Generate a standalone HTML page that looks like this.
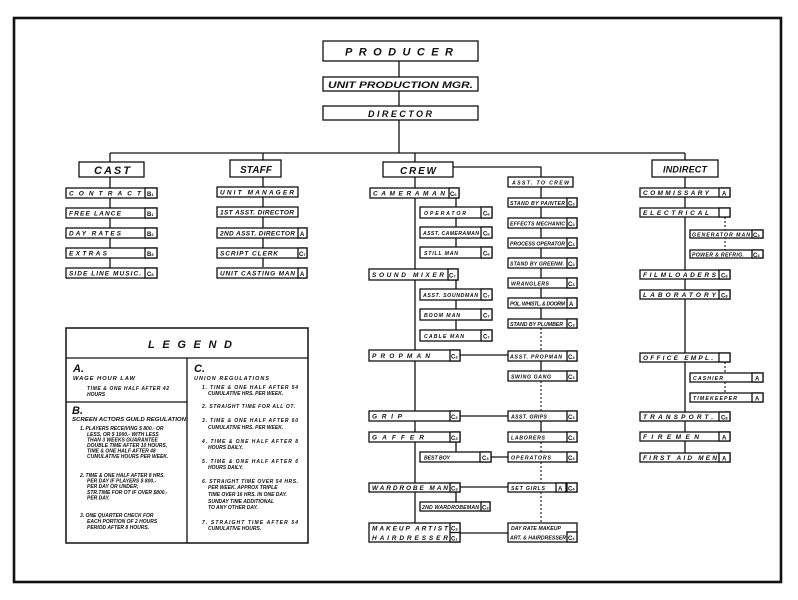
<!DOCTYPE html>
<html><head><meta charset="utf-8"><style>
html,body{margin:0;padding:0;background:#fff}
svg{display:block}
text{font-family:"Liberation Sans",sans-serif;font-weight:bold;font-style:italic;fill:#111}
.b{fill:#fff;stroke:#111;stroke-width:1.3}
.l{stroke:#111;stroke-width:1.3;fill:none}
.d{stroke:#111;stroke-width:1.1;stroke-dasharray:2 2;fill:none}
.t{font-size:6.5px}
.s{font-size:5.2px}
.g{font-size:6px;font-style:normal}
</style></head><body>
<svg width="798" height="600" viewBox="0 0 798 600" xmlns="http://www.w3.org/2000/svg">
<rect x="14" y="18" width="767" height="564" fill="none" stroke="#111" stroke-width="2.6"/>

<!-- top -->
<rect class="b" x="323" y="41" width="155" height="20"/>
<text x="345" y="55.5" font-size="11" textLength="108" lengthAdjust="spacing">PRODUCER</text>
<rect class="b" x="323" y="77" width="155" height="14"/>
<text x="328" y="88" font-size="9" textLength="145" lengthAdjust="spacingAndGlyphs">UNIT PRODUCTION MGR.</text>
<rect class="b" x="323" y="106" width="155" height="14"/>
<text x="368" y="117" font-size="9" textLength="64" lengthAdjust="spacing">DIRECTOR</text>
<path class="l" d="M399 61V77M399 91V106M399 120V153M110 153H685M110 153V162M263 153V160M415 153V162M685 153V160"/>

<rect class="b" x="79" y="162" width="65" height="15"/>
<text x="94" y="174" font-size="11" textLength="36">CAST</text>
<rect class="b" x="230" y="160" width="51" height="17"/>
<text x="240" y="173" font-size="10" textLength="32">STAFF</text>
<rect class="b" x="383" y="162" width="70" height="15"/>
<text x="400" y="174" font-size="10" textLength="36">CREW</text>
<rect class="b" x="652" y="160" width="66" height="17"/>
<text x="663" y="172.5" font-size="9" textLength="44">INDIRECT</text>
<path class="l" d="M453 167H541V177"/>
<rect class="b" x="508" y="177" width="65" height="10"/>
<text x="512" y="184.5" class="s" textLength="57">ASST. TO CREW</text>

<!-- CAST -->
<path class="l" d="M110 177V268"/>
<g>
<rect class="b" x="66" y="188" width="91" height="10"/><rect class="b" x="145" y="188" width="12" height="10"/>
<text x="69" y="195.5" class="t" textLength="72">CONTRACT</text><text x="147" y="196" class="g">B<tspan font-size="4">1</tspan></text>
<rect class="b" x="66" y="208" width="91" height="10"/><rect class="b" x="145" y="208" width="12" height="10"/>
<text x="69" y="215.5" class="t" textLength="52">FREE LANCE</text><text x="147" y="216" class="g">B<tspan font-size="4">1</tspan></text>
<rect class="b" x="66" y="228" width="91" height="10"/><rect class="b" x="145" y="228" width="12" height="10"/>
<text x="69" y="235.5" class="t" textLength="52">DAY RATES</text><text x="147" y="236" class="g">B<tspan font-size="4">2</tspan></text>
<rect class="b" x="66" y="248" width="91" height="10"/><rect class="b" x="145" y="248" width="12" height="10"/>
<text x="69" y="255.5" class="t" textLength="38">EXTRAS</text><text x="147" y="256" class="g">B<tspan font-size="4">3</tspan></text>
<rect class="b" x="66" y="268" width="91" height="10"/><rect class="b" x="145" y="268" width="12" height="10"/>
<text x="69" y="275.5" class="t" textLength="72">SIDE LINE MUSIC.</text><text x="147" y="276" class="g">C<tspan font-size="4">8</tspan></text>
</g>

<!-- STAFF -->
<path class="l" d="M263 177V267"/>
<rect class="b" x="217" y="187" width="81" height="10"/>
<text x="220" y="194.5" class="t" textLength="74">UNIT MANAGER</text>
<rect class="b" x="217" y="207" width="81" height="10"/>
<text x="220" y="214.5" class="t" textLength="74">1ST ASST. DIRECTOR</text>
<rect class="b" x="217" y="228" width="90" height="10"/><rect class="b" x="298" y="228" width="9" height="10"/>
<text x="220" y="235.5" class="t" textLength="75">2ND ASST. DIRECTOR</text><text x="300" y="236" class="g">A</text>
<rect class="b" x="217" y="248" width="90" height="10"/><rect class="b" x="298" y="248" width="9" height="10"/>
<text x="220" y="255.5" class="t" textLength="58">SCRIPT CLERK</text><text x="299" y="256" class="g">C<tspan font-size="4">7</tspan></text>
<rect class="b" x="217" y="268" width="90" height="10"/><rect class="b" x="298" y="268" width="9" height="10"/>
<text x="220" y="275.5" class="t" textLength="75">UNIT CASTING MAN</text><text x="300" y="276" class="g">A</text>

<!-- CREW main -->
<path class="l" d="M415 177V523M456 198V247M456 280V330M460 355H508M460 416H508M456 442V452M491 457H508M460 487H508M456 492V502M460 533H508"/>
<rect class="b" x="370" y="188" width="89" height="10"/><rect class="b" x="449" y="188" width="10" height="10"/>
<text x="373" y="195.5" class="t" textLength="72">CAMERAMAN</text><text x="450" y="196" class="g">C<tspan font-size="4">6</tspan></text>
<rect class="b" x="420" y="207" width="72" height="11"/><rect class="b" x="481" y="207" width="11" height="11"/>
<text x="424" y="215" class="s" textLength="42">OPERATOR</text><text x="483" y="215.5" class="g">C<tspan font-size="4">6</tspan></text>
<rect class="b" x="420" y="227" width="72" height="11"/><rect class="b" x="481" y="227" width="11" height="11"/>
<text x="423" y="235" class="s" textLength="56">ASST. CAMERAMAN</text><text x="483" y="235.5" class="g">C<tspan font-size="4">6</tspan></text>
<rect class="b" x="420" y="247" width="72" height="11"/><rect class="b" x="481" y="247" width="11" height="11"/>
<text x="424" y="255" class="s" textLength="34">STILL MAN</text><text x="483" y="255.5" class="g">C<tspan font-size="4">6</tspan></text>
<rect class="b" x="369" y="269" width="89" height="11"/><rect class="b" x="448" y="269" width="10" height="11"/>
<text x="372" y="277" class="t" textLength="72">SOUND MIXER</text><text x="449" y="277.5" class="g">C<tspan font-size="4">7</tspan></text>
<rect class="b" x="420" y="289" width="72" height="11"/><rect class="b" x="481" y="289" width="11" height="11"/>
<text x="423" y="297" class="s" textLength="55">ASST. SOUNDMAN</text><text x="483" y="297.5" class="g">C<tspan font-size="4">7</tspan></text>
<rect class="b" x="420" y="309" width="72" height="11"/><rect class="b" x="481" y="309" width="11" height="11"/>
<text x="424" y="317" class="s" textLength="36">BOOM MAN</text><text x="483" y="317.5" class="g">C<tspan font-size="4">7</tspan></text>
<rect class="b" x="420" y="330" width="72" height="11"/><rect class="b" x="481" y="330" width="11" height="11"/>
<text x="424" y="338" class="s" textLength="40">CABLE MAN</text><text x="483" y="338.5" class="g">C<tspan font-size="4">7</tspan></text>

<rect class="b" x="369" y="350" width="91" height="11"/><rect class="b" x="450" y="350" width="10" height="11"/>
<text x="372" y="358" class="t" textLength="58">PROPMAN</text><text x="451" y="358.5" class="g">C<tspan font-size="4">3</tspan></text>
<rect class="b" x="369" y="411" width="91" height="10"/><rect class="b" x="450" y="411" width="10" height="10"/>
<text x="372" y="418.5" class="t" textLength="30">GRIP</text><text x="451" y="419" class="g">C<tspan font-size="4">3</tspan></text>
<rect class="b" x="369" y="432" width="91" height="10"/><rect class="b" x="450" y="432" width="10" height="10"/>
<text x="372" y="439.5" class="t" textLength="52">GAFFER</text><text x="451" y="440" class="g">C<tspan font-size="4">3</tspan></text>
<rect class="b" x="420" y="452" width="71" height="10"/><rect class="b" x="480" y="452" width="11" height="10"/>
<text x="424" y="459.5" class="s" textLength="26">BEST BOY</text><text x="482" y="460" class="g">C<tspan font-size="4">3</tspan></text>
<rect class="b" x="369" y="483" width="91" height="9"/><rect class="b" x="450" y="483" width="10" height="9"/>
<text x="372" y="490" class="t" textLength="76">WARDROBE MAN</text><text x="451" y="490.5" class="g">C<tspan font-size="4">3</tspan></text>
<rect class="b" x="420" y="502" width="70" height="9"/><rect class="b" x="481" y="502" width="9" height="9"/>
<text x="422" y="509" class="s" textLength="57">2ND WARDROBEMAN</text><text x="482" y="509.5" class="g">C<tspan font-size="4">3</tspan></text>
<rect class="b" x="369" y="523" width="91" height="19"/><rect class="b" x="450" y="523" width="10" height="19"/>
<path class="l" d="M450 532.5H460"/>
<text x="372" y="530.5" class="t" textLength="76">MAKEUP ARTIST</text><text x="372" y="540" class="t" textLength="76">HAIRDRESSER</text>
<text x="451" y="530.5" class="g">C<tspan font-size="4">3</tspan></text><text x="451" y="540.5" class="g">C<tspan font-size="4">1</tspan></text>

<!-- Right crew column -->
<path class="l" d="M541 187V319M541 361V371M541 421V432"/>
<path class="d" d="M541 328V351M541 381V411M541 442V452M541 462V483M541 492V523"/>
<g>
<rect class="b" x="508" y="198" width="69" height="9"/><rect class="b" x="567" y="198" width="10" height="9"/>
<text x="510" y="205" class="s" font-size="4.6" textLength="55">STAND BY PAINTER</text><text x="568" y="205.5" class="g">C<tspan font-size="4">3</tspan></text>
<rect class="b" x="508" y="218" width="69" height="10"/><rect class="b" x="567" y="218" width="10" height="10"/>
<text x="510" y="225.5" class="s" textLength="55">EFFECTS MECHANIC</text><text x="568" y="226" class="g">C<tspan font-size="4">3</tspan></text>
<rect class="b" x="508" y="238" width="69" height="10"/><rect class="b" x="567" y="238" width="10" height="10"/>
<text x="510" y="245.5" class="s" textLength="55">PROCESS OPERATOR</text><text x="568" y="246" class="g">C<tspan font-size="4">3</tspan></text>
<rect class="b" x="508" y="258" width="69" height="10"/><rect class="b" x="567" y="258" width="10" height="10"/>
<text x="510" y="265.5" class="s" textLength="54">STAND BY GREENM.</text><text x="568" y="266" class="g">C<tspan font-size="4">3</tspan></text>
<rect class="b" x="508" y="278" width="69" height="10"/><rect class="b" x="567" y="278" width="10" height="10"/>
<text x="511" y="285.5" class="s" textLength="38">WRANGLERS</text><text x="568" y="286" class="g">C<tspan font-size="4">3</tspan></text>
<rect class="b" x="508" y="298" width="69" height="10"/><rect class="b" x="567" y="298" width="10" height="10"/>
<text x="510" y="305.5" class="s" textLength="55">POL. WHISTL. &amp; DOORM</text><text x="569" y="306" class="g">A</text>
<rect class="b" x="508" y="319" width="69" height="9"/><rect class="b" x="567" y="319" width="10" height="9"/>
<text x="510" y="326" class="s" textLength="53">STAND BY PLUMBER</text><text x="568" y="326.5" class="g">C<tspan font-size="4">3</tspan></text>
<rect class="b" x="508" y="351" width="69" height="10"/><rect class="b" x="567" y="351" width="10" height="10"/>
<text x="510" y="358.5" class="s" textLength="52">ASST. PROPMAN</text><text x="568" y="359" class="g">C<tspan font-size="4">3</tspan></text>
<rect class="b" x="508" y="371" width="69" height="10"/><rect class="b" x="567" y="371" width="10" height="10"/>
<text x="511" y="378.5" class="s" textLength="40">SWING GANG</text><text x="568" y="379" class="g">C<tspan font-size="4">3</tspan></text>
<rect class="b" x="508" y="411" width="69" height="10"/><rect class="b" x="567" y="411" width="10" height="10"/>
<text x="511" y="418.5" class="s" textLength="36">ASST. GRIPS</text><text x="568" y="419" class="g">C<tspan font-size="4">3</tspan></text>
<rect class="b" x="508" y="432" width="69" height="10"/><rect class="b" x="567" y="432" width="10" height="10"/>
<text x="511" y="439.5" class="s" textLength="34">LABORERS</text><text x="568" y="440" class="g">C<tspan font-size="4">3</tspan></text>
<rect class="b" x="508" y="452" width="69" height="10"/><rect class="b" x="567" y="452" width="10" height="10"/>
<text x="511" y="459.5" class="s" textLength="40">OPERATORS</text><text x="568" y="460" class="g">C<tspan font-size="4">3</tspan></text>
<rect class="b" x="508" y="483" width="69" height="9"/><rect class="b" x="556" y="483" width="10" height="9"/><rect class="b" x="567" y="483" width="10" height="9"/>
<text x="511" y="490" class="s" textLength="34">SET GIRLS</text><text x="558" y="490.5" class="g">A</text><text x="568" y="490.5" class="g">C<tspan font-size="4">4</tspan></text>
<rect class="b" x="508" y="523" width="69" height="19"/><rect class="b" x="567" y="532" width="10" height="10"/>
<text x="511" y="530" class="s" textLength="50">DAY RATE MAKEUP</text>
<text x="510" y="539.5" class="s" textLength="56">ART. &amp; HAIRDRESSER</text><text x="568" y="540" class="g">C<tspan font-size="4">4</tspan></text>
</g>

<!-- INDIRECT -->
<path class="l" d="M685 177V453"/>
<path class="d" d="M725 217V250M725 362V393"/>
<g>
<rect class="b" x="640" y="188" width="90" height="9"/><rect class="b" x="719" y="188" width="11" height="9"/>
<text x="643" y="195" class="t" textLength="66">COMMISSARY</text><text x="722" y="195.5" class="g">A</text>
<rect class="b" x="640" y="208" width="90" height="9"/><rect class="b" x="719" y="208" width="11" height="9"/>
<text x="643" y="215" class="t" textLength="66">ELECTRICAL</text>
<rect class="b" x="690" y="230" width="73" height="8"/><rect class="b" x="752" y="230" width="11" height="8"/>
<text x="692" y="236.5" class="s" font-size="4.6" textLength="58">GENERATOR MAN</text><text x="753" y="237" class="g">C<tspan font-size="4">3</tspan></text>
<rect class="b" x="690" y="250" width="73" height="8"/><rect class="b" x="752" y="250" width="11" height="8"/>
<text x="692" y="256.5" class="s" font-size="4.6" textLength="52">POWER &amp; REFRIG.</text><text x="753" y="257" class="g">C<tspan font-size="4">3</tspan></text>
<rect class="b" x="640" y="270" width="90" height="9"/><rect class="b" x="719" y="270" width="11" height="9"/>
<text x="643" y="277" class="t" textLength="73">FILMLOADERS</text><text x="721" y="277.5" class="g">C<tspan font-size="4">8</tspan></text>
<rect class="b" x="640" y="290" width="90" height="9"/><rect class="b" x="719" y="290" width="11" height="9"/>
<text x="643" y="297" class="t" textLength="73">LABORATORY</text><text x="721" y="297.5" class="g">C<tspan font-size="4">8</tspan></text>
<rect class="b" x="640" y="353" width="90" height="9"/><rect class="b" x="719" y="353" width="11" height="9"/>
<text x="643" y="360" class="t" textLength="70">OFFICE EMPL.</text>
<rect class="b" x="690" y="373" width="73" height="9"/><rect class="b" x="752" y="373" width="11" height="9"/>
<text x="693" y="380" class="s" textLength="30">CASHIER</text><text x="755" y="380.5" class="g">A</text>
<rect class="b" x="690" y="393" width="73" height="9"/><rect class="b" x="752" y="393" width="11" height="9"/>
<text x="693" y="400" class="s" textLength="44">TIMEKEEPER</text><text x="755" y="400.5" class="g">A</text>
<rect class="b" x="640" y="412" width="90" height="9"/><rect class="b" x="719" y="412" width="11" height="9"/>
<text x="643" y="419" class="t" textLength="70">TRANSPORT.</text><text x="721" y="419.5" class="g">C<tspan font-size="4">8</tspan></text>
<rect class="b" x="640" y="432" width="90" height="9"/><rect class="b" x="719" y="432" width="11" height="9"/>
<text x="643" y="439" class="t" textLength="56">FIREMEN</text><text x="722" y="439.5" class="g">A</text>
<rect class="b" x="640" y="453" width="90" height="9"/><rect class="b" x="719" y="453" width="11" height="9"/>
<text x="643" y="460" class="t" textLength="74">FIRST AID MEN</text><text x="722" y="460.5" class="g">A</text>
</g>

<!-- LEGEND -->
<rect x="66" y="328" width="242" height="215" fill="#fff" stroke="#111" stroke-width="1.5"/>
<path class="l" d="M66 358H308M187 358V543M66 402H187"/>
<text x="148" y="348" font-size="11" textLength="84" lengthAdjust="spacing">LEGEND</text>
<g font-size="5">
<text x="73" y="372" font-size="11">A.</text>
<text x="73" y="380" font-size="5.8" textLength="62">WAGE HOUR LAW</text>
<text x="87" y="390" textLength="82">TIME &amp; ONE HALF AFTER 42</text>
<text x="87" y="396">HOURS</text>
<text x="72" y="414" font-size="11">B.</text>
<text x="72" y="421" textLength="114" lengthAdjust="spacingAndGlyphs">SCREEN ACTORS GUILD REGULATION</text>
<text x="80" y="430">1. PLAYERS RECEIVING $ 800.- OR</text>
<text x="87" y="436">LESS, OR $ 1000.- WITH LESS</text>
<text x="87" y="441.5">THAN 3 WEEKS GUARANTEE</text>
<text x="87" y="447">DOUBLE TIME AFTER 10 HOURS,</text>
<text x="87" y="452.5">TIME &amp; ONE HALF AFTER 48</text>
<text x="87" y="458">CUMULATIVE HOURS PER WEEK.</text>
<text x="80" y="477">2. TIME &amp; ONE HALF AFTER 8 HRS.</text>
<text x="87" y="482.5">PER DAY IF PLAYERS $ 800.-</text>
<text x="87" y="488">PER DAY OR UNDER;</text>
<text x="87" y="494">STR.TIME FOR OT IF OVER $800.-</text>
<text x="87" y="499.5">PER DAY.</text>
<text x="80" y="517">3. ONE QUARTER CHECK FOR</text>
<text x="87" y="523">EACH PORTION OF 2 HOURS</text>
<text x="87" y="529">PERIOD AFTER 8 HOURS.</text>
<text x="194" y="372" font-size="11">C.</text>
<text x="194" y="380" font-size="5.4" textLength="75">UNION REGULATIONS</text>
<text x="202" y="389" textLength="96">1. TIME &amp; ONE HALF AFTER 54</text>
<text x="208" y="395">CUMULATIVE HRS. PER WEEK.</text>
<text x="202" y="408" textLength="93">2. STRAIGHT TIME FOR ALL OT.</text>
<text x="202" y="422" textLength="96">3. TIME &amp; ONE HALF AFTER 60</text>
<text x="208" y="429">CUMULATIVE HRS. PER WEEK.</text>
<text x="202" y="443" textLength="96">4. TIME &amp; ONE HALF AFTER 8</text>
<text x="208" y="449">HOURS DAILY.</text>
<text x="202" y="463" textLength="96">5. TIME &amp; ONE HALF AFTER 6</text>
<text x="208" y="469">HOURS DAILY.</text>
<text x="202" y="483" textLength="96">6. STRAIGHT TIME OVER 54 HRS.</text>
<text x="208" y="489">PER WEEK.  APPROX TRIPLE</text>
<text x="208" y="496">TIME OVER 16 HRS. IN ONE DAY.</text>
<text x="208" y="503">SUNDAY TIME ADDITIONAL</text>
<text x="208" y="509">TO ANY OTHER DAY.</text>
<text x="202" y="524" textLength="96">7. STRAIGHT TIME AFTER 54</text>
<text x="208" y="530">CUMULATIVE HOURS.</text>
</g>
</svg>
</body></html>
